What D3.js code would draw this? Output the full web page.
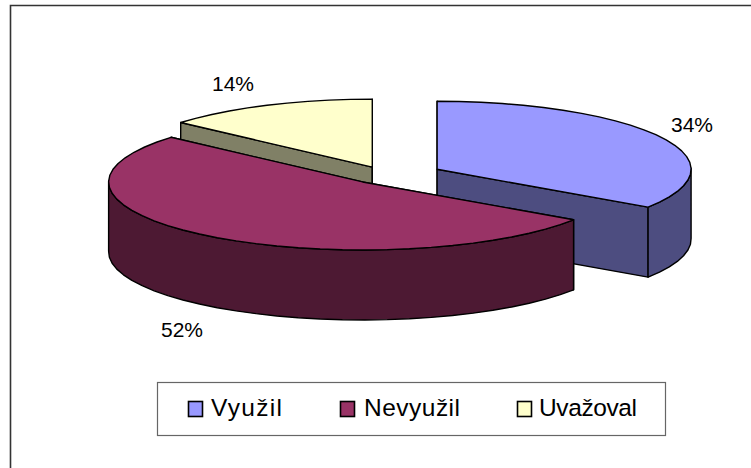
<!DOCTYPE html>
<html><head><meta charset="utf-8">
<script src="https://cdn.jsdelivr.net/npm/d3@7"></script>
<style>html,body{margin:0;background:#fff}svg{display:block}text{font-family:"Liberation Sans",Arial,sans-serif;fill:#000}</style>
</head><body><svg id="c" width="751" height="468"></svg>
<script>
const categories = ["Využil", "Nevyužil", "Uvažoval"];
const values = [34.4, 52, 13.6];
const valueLabels = ["34%", "52%", "14%"];
const topColors = ["#9999FF", "#993366", "#FFFFCC"];
const sideColors = ["#4D4D80", "#4D1933", "#808066"];

const W = 751, H = 468, cx = 393, cy = 174, rx = 254, ry = 68, depth = 70, exX = 50, exY = 10;
const exYFactor = [1, 1, 0.75];
const labelAnchors = [[692, 132], [182, 337], [233, 91]];
const legendX = [188.5, 340.5, 517.5];
const legendTextX = [211, 364, 539];
const legendTextLen = [71, 96, 98];

const svg = d3.select("#c");
svg.append("path").attr("d", `M10.5,${H} V5.5 H${W}`).attr("fill", "none").attr("stroke", "#333").attr("stroke-width", 1.6);

const arcs = d3.pie().sort(null).value(d => d)(values);
const step = Math.PI / 36;
arcs.forEach((a, i) => {
  const m = (a.startAngle + a.endAngle) / 2;
  a.ax = cx + exX * Math.sin(m);
  a.ay = cy - exY * exYFactor[i] * Math.cos(m);
  const n = Math.max(2, Math.round((a.endAngle - a.startAngle) / step));
  a.rim = d3.range(n + 1).map(k => {
    const t = a.startAngle + (a.endAngle - a.startAngle) * k / n;
    return { t, x: a.ax + rx * Math.sin(t), y: a.ay - ry * Math.cos(t) };
  });
});
const line = d3.line().x(p => p[0]).y(p => p[1]);
function drawSlice(a, i) {
  const g = svg.append("g").attr("stroke", "#000").attr("stroke-width", 1.4).attr("stroke-linejoin", "round");
  const side = sideColors[i];
  const first = a.rim[0], last = a.rim[a.rim.length - 1];
  [first, last].forEach(p => {
    g.append("path").attr("fill", side).attr("d", line([[a.ax, a.ay], [p.x, p.y], [p.x, p.y + depth], [a.ax, a.ay + depth]]) + "Z");
  });
  const front = a.rim.filter(p => Math.cos(p.t) <= 0.02);
  if (front.length > 1) {
    const pts = front.map(p => [p.x, p.y]).concat(front.slice().reverse().map(p => [p.x, p.y + depth]));
    g.append("path").attr("fill", side).attr("d", line(pts) + "Z");
  }
  const top = [[a.ax, a.ay]].concat(a.rim.map(p => [p.x, p.y]));
  g.append("path").attr("fill", topColors[i]).attr("d", line(top) + "Z");
}
[0, 2, 1].forEach(i => drawSlice(arcs[i], i));

svg.append("g").attr("font-size", 21).selectAll("text").data(valueLabels).join("text")
  .attr("x", (d, i) => labelAnchors[i][0]).attr("y", (d, i) => labelAnchors[i][1])
  .attr("text-anchor", "middle").text(d => d);

const leg = svg.append("g");
leg.append("rect").attr("x", 157.5).attr("y", 382.5).attr("width", 508).attr("height", 53).attr("fill", "#fff").attr("stroke", "#666").attr("stroke-width", 1.2);
categories.forEach((c, i) => {
  leg.append("rect").attr("x", legendX[i]).attr("y", 401.5).attr("width", 14).attr("height", 15).attr("fill", topColors[i]).attr("stroke", "#000").attr("stroke-width", 1.6);
  leg.append("text").attr("x", legendTextX[i]).attr("y", 416).attr("font-size", 24.5)
    .attr("textLength", legendTextLen[i]).attr("lengthAdjust", "spacing").text(c);
});
</script></body></html>
